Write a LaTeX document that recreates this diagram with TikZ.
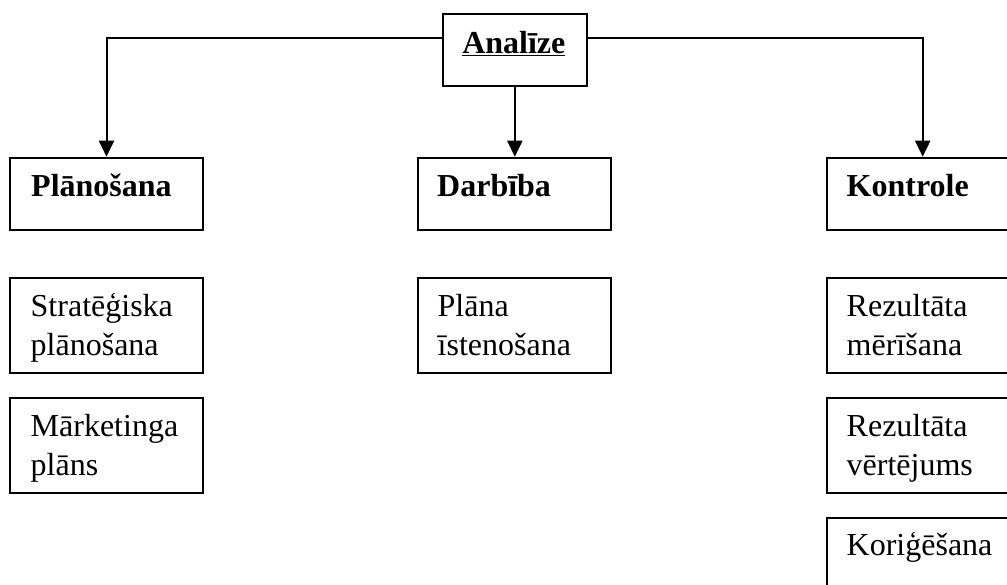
\documentclass[tikz,border=0pt]{standalone}
\usepackage{fontspec}
\setmainfont{Liberation Serif}
\usetikzlibrary{arrows.meta,calc}
\begin{document}
\begin{tikzpicture}[x=1pt,y=-1pt,
  every node/.style={inner sep=0pt},
  frame/.style={draw, line width=2pt, anchor=north west, minimum width=192.4pt},
  headbox/.style={frame, minimum height=72.6pt},
  subbox/.style={frame, minimum height=95.6pt},
  txt/.style={anchor=base west, align=left, font=\fontsize{32}{38.3}\selectfont},
  bold/.style={txt, font=\fontsize{32}{38.3}\selectfont\bfseries},
  conn/.style={line width=2pt, -{Triangle[length=16pt,width=15pt]}}
]
\useasboundingbox (0,0) rectangle (1007,584);
\clip (0,0) rectangle (1007,584);

% top box
\node[draw, line width=2pt, anchor=north west, minimum width=144.3pt, minimum height=72.3pt] (an) at (441.7,12.7) {};
\node[anchor=base, font=\fontsize{32}{38.3}\selectfont\bfseries] (ant) at (513.8,53.3) {\underline{Analīze}};

% level 2
\node[headbox] (plan) at (9.3,156.7) {};
\node[headbox] (darb) at (417.3,156.7) {};
\node[headbox] (kont) at (825.5,156.7) {};
\node[bold] (plant) at (31,196.7) {Plānošana};
\node[bold] (darbt) at (437,196.7) {Darbība};
\node[bold] (kontt) at (846.5,196.7) {Kontrole};

% connectors
\draw[conn] ([yshift=11.8pt]an.west) -| (plan.north);
\draw[conn] ([yshift=11.8pt]an.east) -| (kont.north);
\draw[conn] (an.south) -- (an.south |- darb.north);

% level 3+
\node[subbox] (strat) at (9.3,276.7) {};
\node[subbox] (mark) at (9.3,396.7) {};
\node[subbox] (ist) at (417.3,276.7) {};
\node[subbox] (mer) at (825.5,276.7) {};
\node[subbox] (vert) at (825.5,396.7) {};
\node[subbox] (kor) at (825.5,516.7) {};

\node[txt] (stratt) at (30.5,355) {Stratēģiska\\plānošana};
\node[txt] (markt) at (30.5,475) {Mārketinga\\plāns};
\node[txt] (istt) at (437.5,355) {Plāna\\īstenošana};
\node[txt] (mert) at (846.5,355) {Rezultāta\\mērīšana};
\node[txt] (vertt) at (846.5,475) {Rezultāta\\vērtējums};
\node[txt] (kort) at (846.5,555.5) {Koriģēšana};
\end{tikzpicture}
\end{document}
